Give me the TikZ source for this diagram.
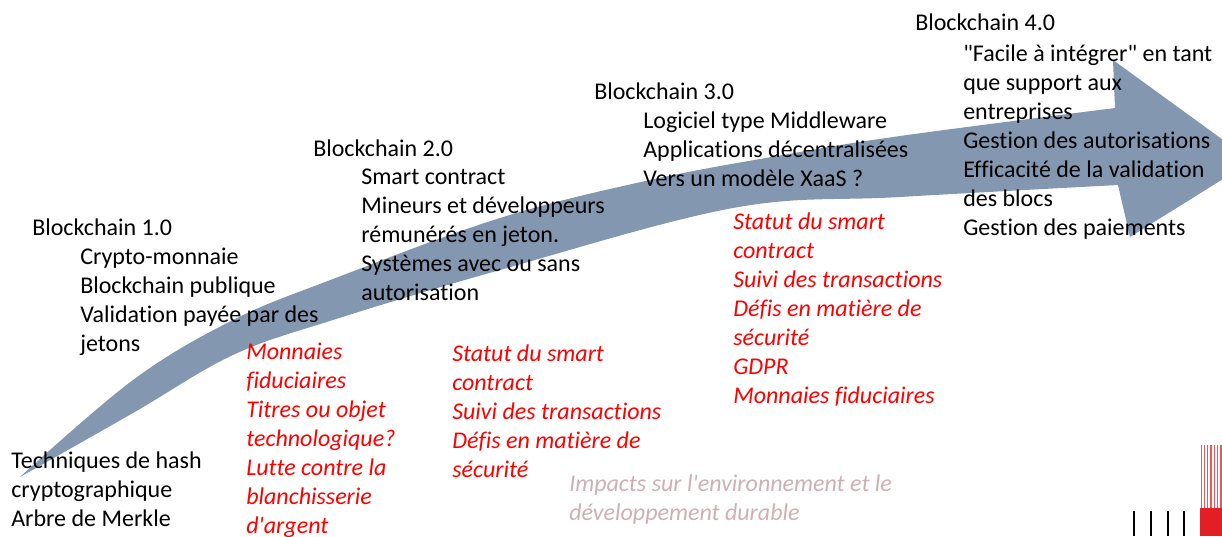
\documentclass[tikz,border=0pt]{standalone}
\usepackage{fontspec}
\setmainfont{Carlito}[Ligatures={TeXOff,CommonOff}]
\definecolor{arrowblue}{RGB}{132,151,176}
\definecolor{impactgray}{RGB}{205,176,180}
\definecolor{logored}{RGB}{227,30,36}
\newcommand{\lns}[1]{\begin{tabular}[t]{@{}l@{}}#1\end{tabular}}
\tikzset{
  txt/.style={anchor=base west, inner sep=0pt, font=\fontsize{18}{21.75}\selectfont, text=black},
  redtxt/.style={txt, text=red, font=\fontsize{18}{21.75}\selectfont\itshape},
  graytxt/.style={txt, text=impactgray, font=\fontsize{18}{21.75}\selectfont\itshape},
  arrowbody/.style={fill=arrowblue},
}
\begin{document}
\begin{tikzpicture}[x=0.75pt,y=-0.75pt]
\useasboundingbox (0,0) rectangle (1222,536);
% curved arrow
\begin{scope}
\clip (0,0) rectangle (1222,536);
\fill[arrowbody] (20,477)
  -- plot[smooth,tension=0.6] coordinates {(20,477) (133,380) (233,320) (333,279) (500,218) (650,180) (783,155) (900,136) (1115,108)}
  -- (1113,60) -- (1252,161) -- (1130,237) -- (1118,185)
  -- plot[smooth,tension=0.6] coordinates {(1118,185) (900,197) (733,208) (500,270) (333,320) (233,355) (133,413) (20,477)}
  -- cycle;
\end{scope}
% black texts
\node[txt] (b0) at (11,468) {\lns{Techniques de hash\\cryptographique\\Arbre de Merkle}};
\node[txt] (t1) at (32,235) {Blockchain 1.0};
\node[txt] (b1) at (80,264) {\lns{Crypto-monnaie\\Blockchain publique\\Validation payée par des\\jetons}};
\node[txt] (t2) at (313,156) {Blockchain 2.0};
\node[txt] (b2) at (361,184) {\lns{Smart contract\\Mineurs et développeurs\\rémunérés en jeton.\\Systèmes avec ou sans\\autorisation}};
\node[txt] (t3) at (594,99) {Blockchain 3.0};
\node[txt] (b3) at (643,128) {\lns{Logiciel type Middleware\\Applications décentralisées\\Vers un modèle XaaS ?}};
\node[txt] (t4) at (915,30) {Blockchain 4.0};
\node[txt] (b4) at (963,61) {\lns{"Facile à intégrer" en tant\\que support aux\\entreprises\\Gestion des autorisations\\Efficacité de la validation\\des blocs\\Gestion des paiements}};
% red texts
\node[redtxt] (r1) at (246,359) {\lns{Monnaies\\fiduciaires\\Titres ou objet\\technologique?\\Lutte contre la\\blanchisserie\\d'argent}};
\node[redtxt] (r2) at (452,361) {\lns{Statut du smart\\contract\\Suivi des transactions\\Défis en matière de\\sécurité}};
\node[redtxt] (r3) at (733,229) {\lns{Statut du smart\\contract\\Suivi des transactions\\Défis en matière de\\sécurité\\GDPR\\Monnaies fiduciaires}};
\node[graytxt] (g1) at (569,491) {\lns{Impacts sur l'environnement et le\\développement durable}};
% logo
\foreach \i in {0,...,6} \fill[logored!75] ({1200.5+\i*3.3},445) rectangle ({1201.8+\i*3.3},508);
\fill[logored] (1200,508) rectangle (1222,536);
\foreach \x in {1133,1150,1167,1183} \fill[black] (\x,511) rectangle (\x+2,536);
\end{tikzpicture}
\end{document}
